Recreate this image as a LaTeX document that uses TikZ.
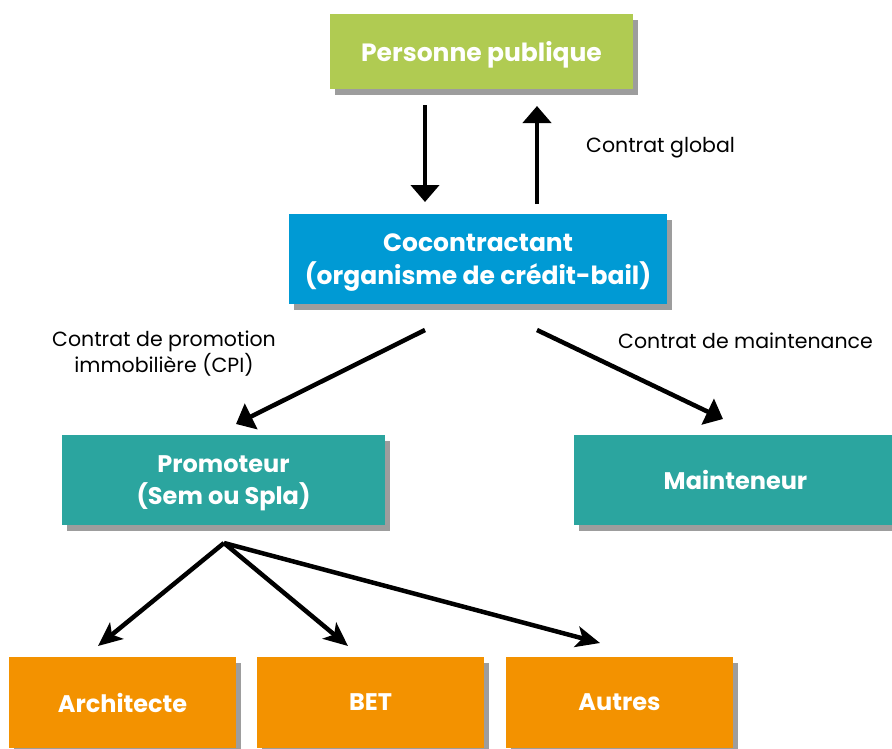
\documentclass[tikz,border=0pt]{standalone}
\usepackage{fontspec}
\setmainfont{Poppins}
\usetikzlibrary{arrows.meta,shadows}
\definecolor{cgreen}{HTML}{B0CB52}
\definecolor{cblue}{HTML}{009AD4}
\definecolor{cteal}{HTML}{2BA59F}
\definecolor{corange}{HTML}{F39200}
\tikzset{
  box/.style={rectangle, inner sep=0pt, text=white, align=center, text depth=0pt,
    font=\fontsize{24}{32}\selectfont\bfseries,
    drop shadow={shadow xshift=5pt, shadow yshift=-6pt, fill=black!70, opacity=.55}},
  bigbox/.style={box, font=\fontsize{25}{33}\selectfont\bfseries},
  lbl/.style={font=\fontsize{20.5}{26}\selectfont, text=black, align=center, inner sep=0pt},
  bigarrow/.style={line width=4.5pt, -{Triangle[length=17pt,width=28pt]}},
  fanarrow/.style={line width=4.5pt, -{Stealth[length=24pt,width=21pt,inset=6pt]}}
}
\begin{document}
\begin{tikzpicture}[x=1pt,y=-1pt]
\useasboundingbox (0,0) rectangle (892,748);
\node[bigbox, fill=cgreen, minimum width=303pt, minimum height=75pt] (pp) at (481.5,51.5) {Personne publique};
\node[bigbox, fill=cblue, minimum width=378pt, minimum height=90pt] (co) at (478,259) {Cocontractant\\(organisme de crédit-bail)};
\node[box, fill=cteal, minimum width=323pt, minimum height=90pt] (pr) at (223.5,480) {Promoteur\\(Sem ou Spla)};
\node[box, fill=cteal, minimum width=323pt, minimum height=90pt] (ma) at (735.5,480) {Mainteneur};
\node[box, fill=corange, minimum width=227pt, minimum height=91pt] (ar) at (122.5,702.5) {Architecte};
\node[box, fill=corange, minimum width=227pt, minimum height=91pt] (bet) at (370.5,702.5) {BET};
\node[box, fill=corange, minimum width=227pt, minimum height=91pt] (au) at (619.5,702.5) {Autres};

\coordinate (d1) at (425,105);
\coordinate (d2) at (425,202);
\coordinate (u1) at (537,204);
\coordinate (u2) at (537,106);
\coordinate (c1) at (425,330);
\coordinate (c2) at (537,330);
\coordinate (prT) at (236,424);
\coordinate (maT) at (723,419);
\coordinate (fan) at (224,543);
\coordinate (arT) at (98,646);
\coordinate (betT) at (348,646);
\coordinate (auT) at (600,643);

\draw[bigarrow] (d1) -- (d2);
\draw[bigarrow] (u1) -- (u2);
\draw[bigarrow] (c1) -- (prT);
\draw[bigarrow] (c2) -- (maT);
\draw[fanarrow] (fan) -- (arT);
\draw[fanarrow] (fan) -- (betT);
\draw[fanarrow] (fan) -- (auT);

\node[lbl, anchor=west] (lg) at (586,148) {Contrat global};
\node[lbl] (lcpi) at (164,354) {Contrat de promotion\\immobilière (CPI)};
\node[lbl, anchor=west] (lm) at (618,341) {Contrat de maintenance};
\end{tikzpicture}
\end{document}
